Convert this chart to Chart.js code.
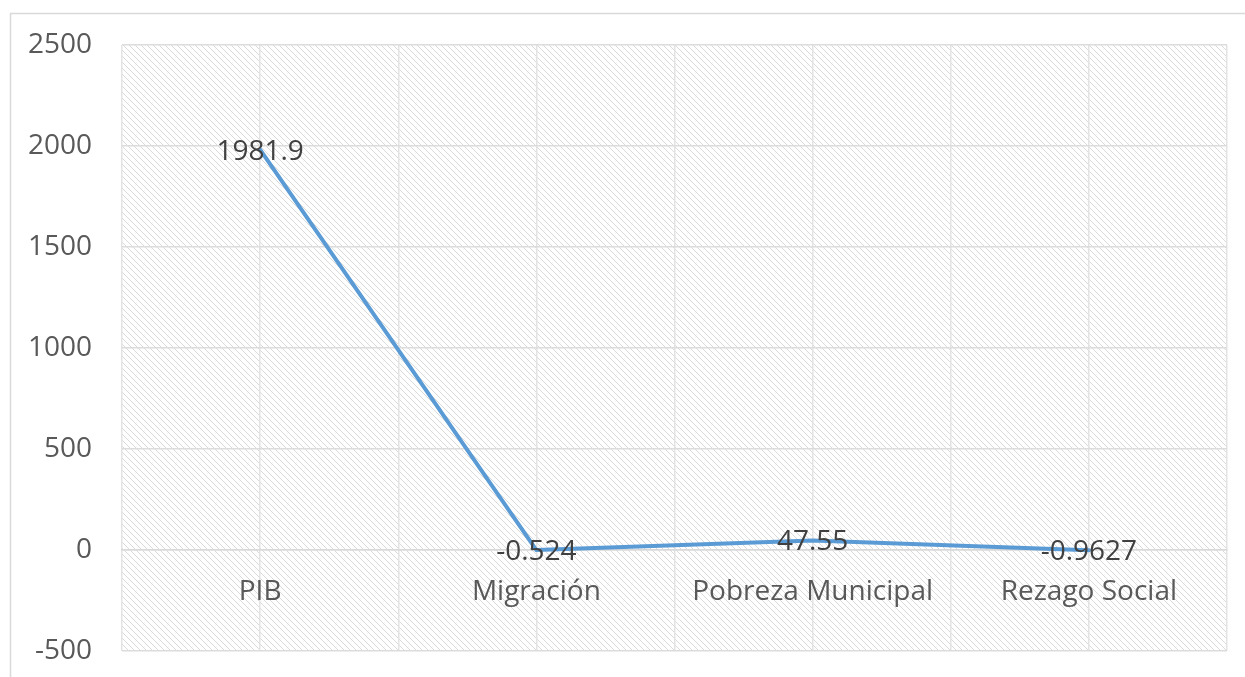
<!DOCTYPE html>
<html>
<head>
<meta charset="utf-8">
<script src="https://cdn.jsdelivr.net/npm/chart.js@4.4.1/dist/chart.umd.min.js"></script>
<style>
    html, body { margin: 0; padding: 0; background: #ffffff; }
    #wrap { width: 1245px; height: 677px; }
</style>
</head>
<body>
<div id="wrap"><canvas id="lineChart" width="1245" height="677"></canvas></div>
<script>
// Categories and values
const categories = ['PIB', 'Migración', 'Pobreza Municipal', 'Rezago Social'];
const values = [1981.9, -0.524, 47.55, -0.9627];
const yMin = -500;
const yMax = 2500;
const yStep = 500;

Chart.defaults.font.family = 'Open Sans';

// diagonal hatch tile for the plot area
function makeHatch() {
    const tile = document.createElement('canvas');
    tile.width = 6;
    tile.height = 6;
    const t = tile.getContext('2d');
    t.fillStyle = '#ffffff';
    t.fillRect(0, 0, 6, 6);
    t.fillStyle = '#dadada';
    for (let i = 0; i < 6; i++) {
        t.fillRect(i, i, 1, 1);
    }
    return t.createPattern(tile, 'repeat');
}

const backgroundPlugin = {
    id: 'plotBackground',
    beforeDraw(chart) {
        const ctx = chart.ctx;
        const area = chart.chartArea;
        ctx.save();
        // outer frame
        ctx.strokeStyle = '#d9d9d9';
        ctx.lineWidth = 1.5;
        ctx.strokeRect(10.5, 13.5, 1260, 700);
        ctx.fillStyle = makeHatch();
        ctx.fillRect(area.left, area.top, area.right - area.left, area.bottom - area.top);
        ctx.restore();
    }
};

// value labels centred on each point
const valueLabelPlugin = {
    id: 'valueLabels',
    afterDatasetsDraw(chart) {
        const ctx = chart.ctx;
        const meta = chart.getDatasetMeta(0);
        ctx.save();
        ctx.font = '28px "Open Sans"';
        ctx.fillStyle = '#404040';
        ctx.textAlign = 'center';
        ctx.textBaseline = 'middle';
        meta.data.forEach((pt, i) => {
            ctx.fillText(String(values[i]), pt.x, pt.y + 2);
        });
        ctx.restore();
    }
};

let lineCtx = document.getElementById('lineChart').getContext('2d');
const lineChart = new Chart(lineCtx, {
    type: 'line',
    data: {
        labels: categories,
        datasets: [{
            data: values,
            borderColor: '#5b9bd5',
            borderWidth: 4,
            borderCapStyle: 'round',
            borderJoinStyle: 'round',
            pointRadius: 0,
            tension: 0,
            fill: false,
            clip: false,
        }],
    },
    options: {
        responsive: false,
        animation: false,
        layout: {
            padding: { left: 0, right: 18, top: 45, bottom: 26 },
        },
        plugins: {
            legend: { display: false },
            title: { display: false },
            tooltip: { enabled: false },
        },
        scales: {
            x: {
                type: 'category',
                position: { y: 0 },
                offset: true,
                grid: {
                    offset: true,
                    color: '#e3e3e3',
                    lineWidth: 1.5,
                    drawTicks: false,
                },
                border: { display: true, color: '#d9d9d9', width: 1.5 },
                ticks: {
                    color: '#595959',
                    font: { size: 28 },
                    padding: 25,
                    maxRotation: 0,
                    autoSkip: false,
                },
            },
            x2: {
                type: 'category',
                labels: categories,
                position: 'bottom',
                offset: true,
                grid: {
                    offset: false,
                    color: '#e3e3e3',
                    lineWidth: 1.5,
                    drawTicks: false,
                },
                border: { display: false },
                ticks: { display: false },
                afterFit(scale) { scale.height = 0; },
            },
            y: {
                min: yMin,
                max: yMax,
                grid: {
                    color: '#dcdcdc',
                    lineWidth: 1.5,
                    drawTicks: false,
                },
                border: { display: false },
                ticks: {
                    stepSize: yStep,
                    color: '#595959',
                    font: { size: 28 },
                    padding: 30,
                    callback: (v) => String(v),
                },
                afterFit(scale) {
                    scale.width = 122;
                    scale.paddingTop = 0;
                    scale.paddingBottom = 0;
                },
            },
        },
    },
    plugins: [backgroundPlugin, valueLabelPlugin],
});
</script>
</body>
</html>
